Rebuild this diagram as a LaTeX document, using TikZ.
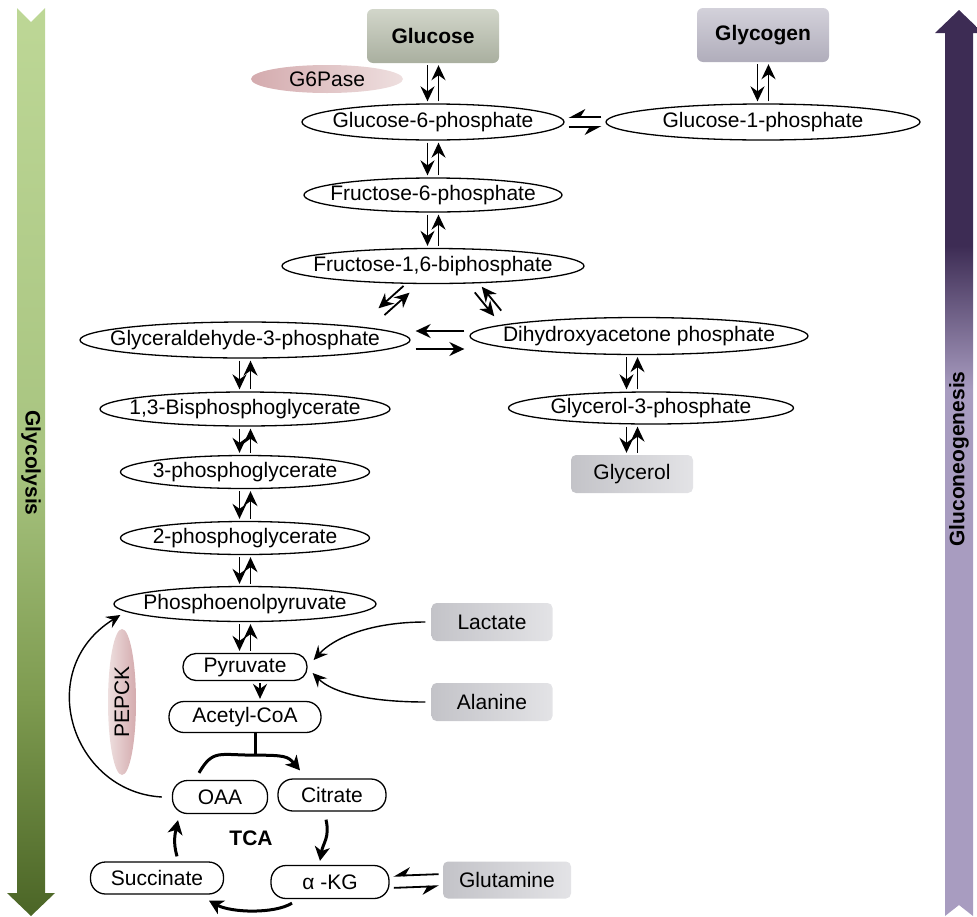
\documentclass[tikz,border=0pt]{standalone}
\usepackage{fontspec}
\setmainfont{Liberation Sans}
\usetikzlibrary{arrows.meta, calc, shapes.geometric}
\definecolor{glyTop}{HTML}{BDD796}
\definecolor{glyPale}{HTML}{A8C480}
\definecolor{glyMid}{HTML}{7E9B50}
\definecolor{glyDark}{HTML}{4B6526}
\definecolor{gngLav}{HTML}{A89CC0}
\definecolor{gngDark}{HTML}{3D2C54}
\definecolor{enzDeep}{HTML}{D4ABAE}
\definecolor{enzPale}{HTML}{EEDFDF}
\definecolor{srcDeep}{HTML}{C3C3C8}
\definecolor{srcPale}{HTML}{E3E3E6}
\definecolor{glcTop}{HTML}{D2D6CA}
\definecolor{glcLow}{HTML}{A9AF9F}
\definecolor{glgTop}{HTML}{D3D1DA}
\definecolor{glgLow}{HTML}{B0ADBB}

\pgfdeclareverticalshading{glyshade}{100bp}{color(0bp)=(glyDark); color(25bp)=(glyDark);
  color(37bp)=(glyMid); color(50bp)=(glyPale); color(75bp)=(glyTop); color(100bp)=(glyTop)}
\pgfdeclareverticalshading{gngshade}{100bp}{color(0bp)=(gngLav); color(25bp)=(gngLav);
  color(54bp)=(gngLav); color(62bp)=(gngDark); color(75bp)=(gngDark); color(100bp)=(gngDark)}

% label of zero width, so the ellipse keeps its given size
\newcommand{\zbox}[1]{\makebox[0pt]{#1}}
% two opposite arrows side by side
\newcommand{\revpair}[3][5.5pt]{%
  \draw[rxn] ($(#2)!#1!-90:(#3)$) -- ($(#3)!#1!90:(#2)$);
  \draw[rxn] ($(#3)!#1!-90:(#2)$) -- ($(#2)!#1!90:(#3)$);}

\begin{document}
\begin{tikzpicture}[
    x=1pt, y=-1pt,
    font=\fontsize{21}{25}\selectfont,
    met/.style={draw, ellipse, line width=1.3pt, inner sep=0pt},
    pill/.style={draw, rectangle, rounded corners=15pt, line width=1.3pt, inner sep=0pt},
    src/.style={rectangle, rounded corners=5pt, inner sep=0pt, left color=srcDeep, right color=srcPale,
                minimum width=124pt, minimum height=38pt},
    enz/.style={ellipse, inner sep=0pt, left color=enzDeep, right color=enzPale},
    rxn/.style={line width=1.8pt, -{Stealth[length=15pt,width=14pt,inset=5pt]},
                shorten <=2pt, shorten >=2pt},
    harp/.style={line width=1.8pt, -{Stealth[length=15pt,width=16pt,inset=5pt,harpoon,swap]},
                shorten <=4pt, shorten >=4pt},
    conv/.style={line width=1.4pt, -{Stealth[length=14pt,width=13pt,inset=5pt]}},
    tca/.style={line width=3pt, -{Stealth[length=14pt,width=15pt,inset=4pt]}}
  ]
  \useasboundingbox (0,0) rectangle (977,916);

  % side bars
  \shade[shading=glyshade] (17,8) -- (31,22) -- (45,8) -- (45,893) -- (55,893)
    -- (31,916) -- (7,893) -- (17,893) -- cycle;
  \shade[shading=gngshade] (945,916) -- (959,905) -- (973,916) -- (973,33) -- (983,33)
    -- (959,10) -- (935,33) -- (945,33) -- cycle;
  \node[rotate=-90, font=\fontsize{21}{25}\selectfont\bfseries] (glylab) at (31,463) {Glycolysis};
  \node[rotate=90, font=\fontsize{21}{25}\selectfont\bfseries] (gnglab) at (959,459) {Gluconeogenesis};

  % sugars
  \node[rectangle, rounded corners=6pt, top color=glcTop, bottom color=glcLow,
        minimum width=132pt, minimum height=54pt, font=\fontsize{21}{25}\selectfont\bfseries] (glc) at (433,36) {Glucose};
  \node[rectangle, rounded corners=6pt, top color=glgTop, bottom color=glgLow,
        minimum width=132pt, minimum height=54pt, font=\fontsize{21}{25}\selectfont\bfseries] (glg) at (763,35) {Glycogen};
  \node[enz, minimum width=152pt, minimum height=28pt] (g6pase) at (327,79) {\zbox{G6Pase}};
  \node[met, minimum width=262pt, minimum height=36pt] (g6p) at (433,122) {\zbox{Glucose-6-phosphate}};
  \node[met, minimum width=314pt, minimum height=36pt] (g1p) at (763,122) {\zbox{Glucose-1-phosphate}};
  \node[met, minimum width=258pt, minimum height=34pt] (f6p) at (433,195) {\zbox{Fructose-6-phosphate}};
  \node[met, minimum width=302pt, minimum height=35pt] (f16bp) at (433,266) {\zbox{Fructose-1,6-biphosphate}};

  % trioses
  \node[met, minimum width=330pt, minimum height=36pt] (gap) at (245,340) {\zbox{Glyceraldehyde-3-phosphate}};
  \node[met, minimum width=338pt, minimum height=37pt] (dhap) at (639,336) {\zbox{Dihydroxyacetone phosphate}};
  \node[met, minimum width=285pt, minimum height=32pt] (g3p) at (651,408) {\zbox{Glycerol-3-phosphate}};
  \node[src, minimum width=122pt] (glyc) at (632,474) {Glycerol};
  \node[met, minimum width=290pt, minimum height=34pt] (bpg) at (245,409) {\zbox{1,3-Bisphosphoglycerate}};
  \node[met, minimum width=249pt, minimum height=33pt] (pg3) at (245,472) {\zbox{3-phosphoglycerate}};
  \node[met, minimum width=249pt, minimum height=33pt] (pg2) at (245,538) {\zbox{2-phosphoglycerate}};
  \node[met, minimum width=262pt, minimum height=35pt] (pep) at (245,604) {\zbox{Phosphoenolpyruvate}};
  \node[pill, minimum width=124pt, minimum height=27pt, rounded corners=13pt] (pyr) at (245,667) {Pyruvate};
  \node[pill, minimum width=152pt, minimum height=31pt] (acoa) at (245,717) {Acetyl-CoA};
  \node[src, minimum width=121pt] (lac) at (492,622) {Lactate};
  \node[src, minimum width=121pt] (ala) at (492,702) {Alanine};
  \node[enz, rotate=90, minimum width=146pt, minimum height=28pt,
        left color=enzPale, right color=enzDeep] (pepck) at (122,702) {\zbox{PEPCK}};

  % TCA cycle
  \node[pill, minimum width=95pt, minimum height=33pt] (oaa) at (220,797) {OAA};
  \node[pill, minimum width=108pt, minimum height=32pt] (cit) at (332,795) {Citrate};
  \node[pill, minimum width=133pt, minimum height=32pt] (succ) at (157,878) {Succinate};
  \node[pill, minimum width=118pt, minimum height=33pt] (akg) at (330,882) {α -KG};
  \node[src, minimum width=128pt, minimum height=37pt] (gln) at (507,880) {Glutamine};
  \node[font=\fontsize{21}{25}\selectfont\bfseries] (tcalab) at (251,838) {TCA};

  % reversible steps
  \foreach \a/\b in {glc/g6p, glg/g1p, g6p/f6p, f6p/f16bp, gap/bpg, bpg/pg3, pg3/pg2, pg2/pep, pep/pyr}
    \revpair{\a.south}{\b.north};
  \coordinate (f16l) at ([shift={(-25,22)}]f16bp.center);
  \coordinate (gapr) at ([shift={(135,-27)}]gap.center);
  \coordinate (f16r) at ([shift={(44,22)}]f16bp.center);
  \coordinate (dhapl) at ([shift={(-140,-21)}]dhap.center);
  \revpair[4.5pt]{f16l}{gapr}
  \revpair[4.5pt]{f16r}{dhapl}
  \coordinate (dhapw) at (gap.east -| dhap.west);
  \begin{scope}[rxn/.append style={shorten <=5pt, shorten >=5pt}]
    \revpair[9pt]{gap.east}{dhapw}
  \end{scope}
  \coordinate (dg1) at (dhap.south -| glyc.north);
  \coordinate (dg2) at (g3p.north -| glyc.north);
  \coordinate (dg3) at (g3p.south -| glyc.north);
  \revpair{dg1}{dg2}
  \revpair{dg3}{glyc.north}
  \begin{scope}[rxn/.style=harp]
    \revpair[5pt]{g6p.east}{g1p.west}
    \revpair[6pt]{akg.east}{gln.west}
  \end{scope}
  \draw[rxn] ([xshift=15pt]pyr.south) -- ([xshift=15pt]pyr.south |- acoa.north);

  % inputs to pyruvate and PEP
  \draw[conv] ([xshift=-6pt]lac.west) .. controls +(-55,0) and +(20,-22) .. ([shift={(6,-7)}]pyr.east);
  \draw[conv] ([xshift=-6pt]ala.west) .. controls +(-55,0) and +(20,20) .. ([shift={(5,6)}]pyr.east);
  \draw[conv] ([xshift=-10pt]oaa.west) .. controls +(-90,-5) and +(-88,55) .. ([shift={(7,11)}]pep.west);

  % cycle
  \coordinate (tcain) at ($(acoa.south)+(10,22)$);
  \draw[line width=3pt] (acoa.south -| tcain) -- (tcain);
  \draw[tca] ([shift={(-21,-7)}]oaa.north) .. controls +(14,-24) and +(-36,0) .. (tcain)
    .. controls +(30,0) and +(-12,-14) .. ([shift={(-32,-8)}]cit.north);
  \draw[tca] ([shift={(-6,8)}]cit.south) .. controls +(4,18) and +(3,-18) .. ([shift={(-10,-4)}]akg.north);
  \draw[tca] ([shift={(-38,4)}]akg.south) .. controls +(-18,11) and +(22,12) .. ([shift={(52,6)}]succ.south);
  \draw[tca] ([shift={(20,-5)}]succ.north) .. controls +(-4,-14) and +(-3,14) .. ([shift={(-42,6)}]oaa.south);
\end{tikzpicture}
\end{document}
